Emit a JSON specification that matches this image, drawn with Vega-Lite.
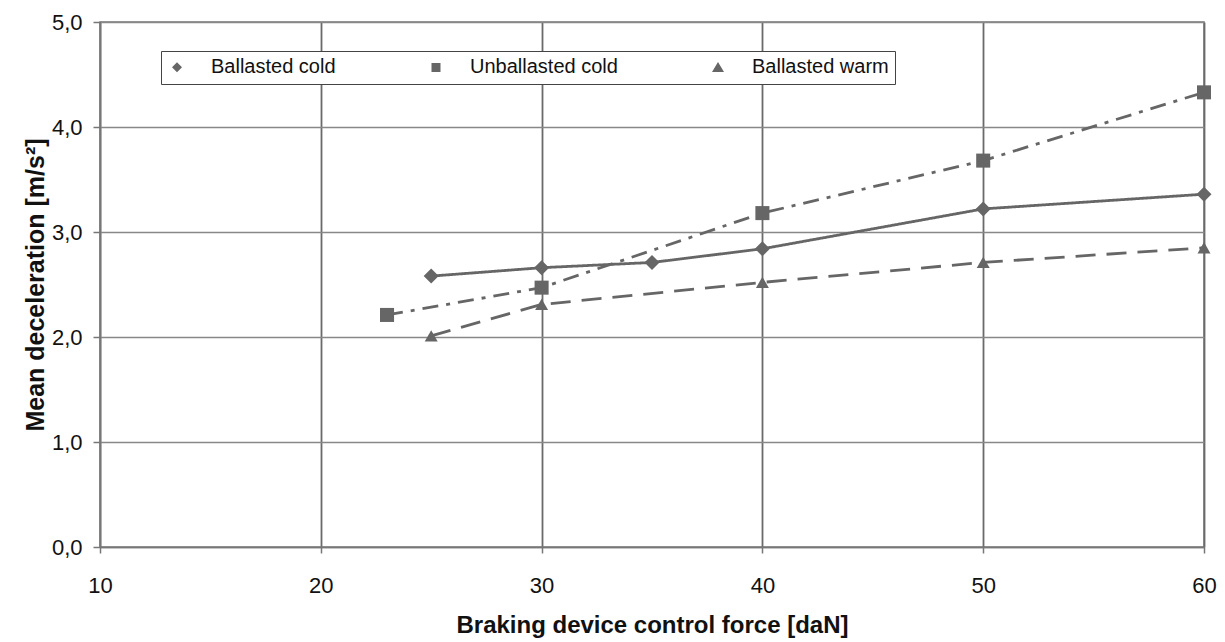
{
  "$schema": "https://vega.github.io/schema/vega-lite/v6.json",
  "autosize": {"type": "none"},
  "padding": {"left": 100, "top": 22, "right": 21, "bottom": 95},
  "width": 1104,
  "height": 525,
  "background": "white",
  "config": {
    "font": "Liberation Sans",
    "view": {"stroke": "#777", "strokeWidth": 1.5},
    "axis": {
      "labelFont": "Liberation Sans",
      "labelFontSize": 22,
      "labelColor": "#111",
      "labelFlush": false,
      "titleFont": "Liberation Sans",
      "titleFontWeight": "bold",
      "titleColor": "#111",
      "domainColor": "#777",
      "domainWidth": 1.5,
      "tickColor": "#777",
      "tickWidth": 1.5
    }
  },
  "data": {
    "values": [
      {"series": "Ballasted cold", "force": 25, "decel": 2.58},
      {"series": "Ballasted cold", "force": 30, "decel": 2.66},
      {"series": "Ballasted cold", "force": 35, "decel": 2.71},
      {"series": "Ballasted cold", "force": 40, "decel": 2.84},
      {"series": "Ballasted cold", "force": 50, "decel": 3.22},
      {"series": "Ballasted cold", "force": 60, "decel": 3.36},
      {"series": "Unballasted cold", "force": 23, "decel": 2.21},
      {"series": "Unballasted cold", "force": 30, "decel": 2.47},
      {"series": "Unballasted cold", "force": 40, "decel": 3.18},
      {"series": "Unballasted cold", "force": 50, "decel": 3.68},
      {"series": "Unballasted cold", "force": 60, "decel": 4.33},
      {"series": "Ballasted warm", "force": 25, "decel": 2.01},
      {"series": "Ballasted warm", "force": 30, "decel": 2.31},
      {"series": "Ballasted warm", "force": 40, "decel": 2.52},
      {"series": "Ballasted warm", "force": 50, "decel": 2.71},
      {"series": "Ballasted warm", "force": 60, "decel": 2.85}
    ]
  },
  "encoding": {
    "x": {
      "field": "force",
      "type": "quantitative",
      "scale": {"domain": [10, 60], "nice": false, "zero": false},
      "axis": {
        "values": [10, 20, 30, 40, 50, 60],
        "title": "Braking device control force [daN]",
        "titleFontSize": 24,
        "grid": true,
        "gridColor": "#6a6a6a",
        "gridWidth": 1.8,
        "tickSize": 6,
        "labelPadding": 22,
        "titlePadding": 17
      }
    },
    "y": {
      "field": "decel",
      "type": "quantitative",
      "scale": {"domain": [0, 5], "nice": false},
      "axis": {
        "values": [0, 1, 2, 3, 4, 5],
        "title": "Mean deceleration [m/s²]",
        "titleFontSize": 25,
        "grid": true,
        "gridColor": "#888",
        "gridWidth": 1.3,
        "tickSize": 7,
        "labelPadding": 11,
        "titlePadding": 3,
        "labelExpr": "replace(format(datum.value, '.1f'), '.', ',')"
      }
    }
  },
  "layer": [
    {
      "mark": {"type": "line", "color": "#666", "strokeWidth": 2.8},
      "encoding": {
        "detail": {"field": "series"},
        "strokeDash": {
          "field": "series",
          "scale": {
            "domain": ["Ballasted cold", "Unballasted cold", "Ballasted warm"],
            "range": [[1, 0], [16, 8, 4, 8], [20, 11]]
          },
          "legend": null
        }
      }
    },
    {
      "mark": {"type": "point", "filled": true, "color": "#666", "opacity": 1},
      "encoding": {
        "shape": {
          "field": "series",
          "scale": {
            "domain": ["Ballasted cold", "Unballasted cold", "Ballasted warm"],
            "range": ["diamond", "square", "triangle-up"]
          },
          "legend": null
        },
        "size": {
          "field": "series",
          "scale": {
            "domain": ["Ballasted cold", "Unballasted cold", "Ballasted warm"],
            "range": [225, 169, 256]
          },
          "legend": null
        }
      }
    },
    {
      "mark": {"type": "point", "fill": "#666", "stroke": "#666", "strokeWidth": 2.8, "opacity": 0},
      "encoding": {
        "shape": {
          "field": "series",
          "scale": {
            "domain": ["Ballasted cold", "Unballasted cold", "Ballasted warm"],
            "range": [
              "M-14,0M-5.6,0L5.6,0M0,-1.0L1.0,0L0,1.0L-1.0,0Z",
              "M-5.6,0L-1,0M1,0L2.6,0M3.8,0L4.4,0M-0.9,-0.9L0.9,-0.9L0.9,0.9L-0.9,0.9Z",
              "M-5.6,0L5.6,0M0,-1.1L1.2,0.9L-1.2,0.9Z"
            ]
          },
          "legend": {
            "title": null,
            "orient": "none",
            "legendX": 61,
            "legendY": 29,
            "direction": "horizontal",
            "columns": 3,
            "columnPadding": 66,
            "padding": 6,
            "strokeColor": "#444",
            "fillColor": "white",
            "symbolSize": 100,
            "symbolStrokeWidth": 2.8,
            "symbolFillColor": "#666",
            "symbolStrokeColor": "#666",
            "symbolOpacity": 1,
            "labelFont": "Liberation Sans",
            "labelFontSize": 20,
            "labelColor": "#111",
            "labelOffset": 24,
            "labelLimit": 300,
            "encode": {
              "symbols": {
                "update": {
                  "fill": {"value": "#666"},
                  "stroke": {"value": "#666"},
                  "strokeWidth": {"value": 2.8},
                  "opacity": {"value": 1},
                  "strokeOpacity": {"value": 1},
                  "fillOpacity": {"value": 1}
                }
              }
            }
          }
        }
      }
    }
  ],
  "resolve": {"scale": {"shape": "independent"}}
}
